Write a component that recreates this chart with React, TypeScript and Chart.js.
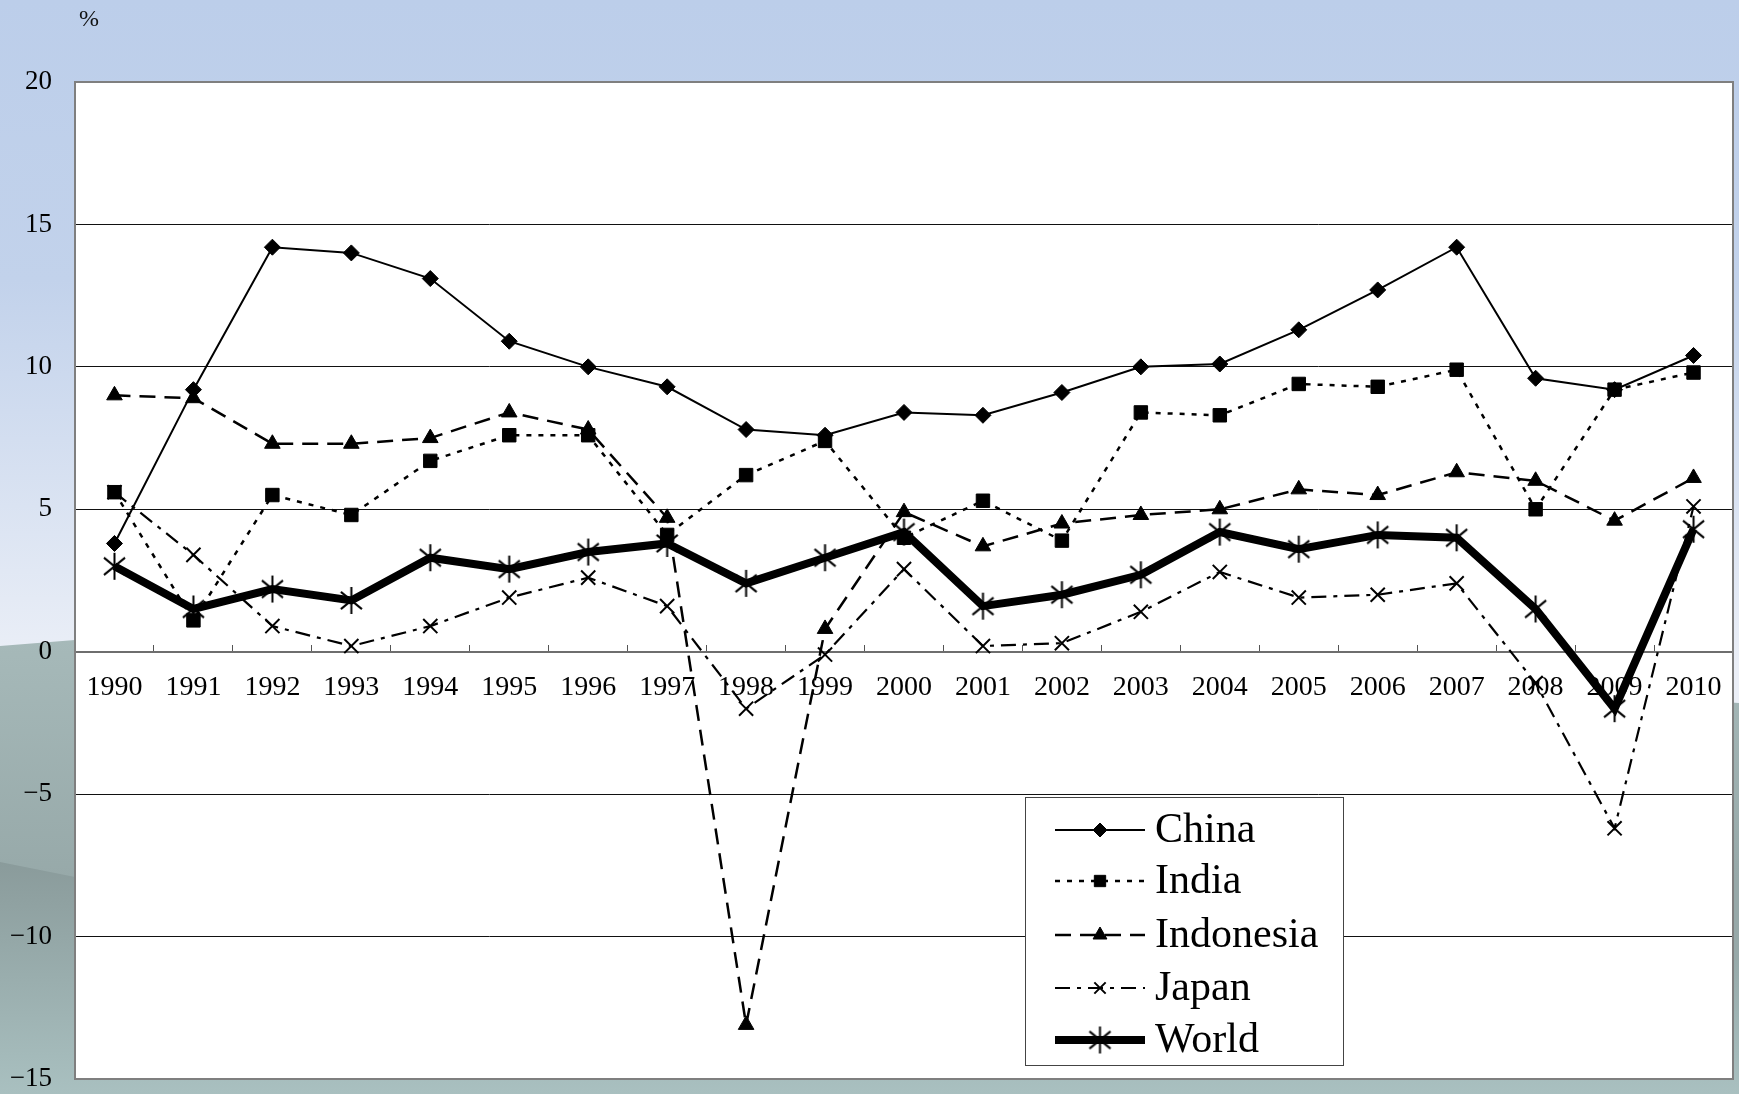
import React, { useEffect, useRef } from 'react';
import { Chart, registerables } from 'chart.js';
import { drawPoint } from 'chart.js/helpers';

Chart.register(...registerables);

const years = ['1990', '1991', '1992', '1993', '1994', '1995', '1996', '1997', '1998', '1999', '2000', '2001', '2002', '2003', '2004', '2005', '2006', '2007', '2008', '2009', '2010'];
const china = [3.8, 9.2, 14.2, 14.0, 13.1, 10.9, 10.0, 9.3, 7.8, 7.6, 8.4, 8.3, 9.1, 10.0, 10.1, 11.3, 12.7, 14.2, 9.6, 9.2, 10.4];
const india = [5.6, 1.1, 5.5, 4.8, 6.7, 7.6, 7.6, 4.1, 6.2, 7.4, 4.0, 5.3, 3.9, 8.4, 8.3, 9.4, 9.3, 9.9, 5.0, 9.2, 9.8];
const indonesia = [9.0, 8.9, 7.3, 7.3, 7.5, 8.4, 7.8, 4.7, -13.1, 0.8, 4.9, 3.7, 4.5, 4.8, 5.0, 5.7, 5.5, 6.3, 6.0, 4.6, 6.1];
const japan = [5.6, 3.4, 0.9, 0.2, 0.9, 1.9, 2.6, 1.6, -2.0, -0.1, 2.9, 0.2, 0.3, 1.4, 2.8, 1.9, 2.0, 2.4, -1.1, -6.2, 5.1];
const world = [3.0, 1.5, 2.2, 1.8, 3.3, 2.9, 3.5, 3.8, 2.4, 3.3, 4.2, 1.6, 2.0, 2.7, 4.2, 3.6, 4.1, 4.0, 1.5, -2.0, 4.3];
const seriesNames = ['China', 'India', 'Indonesia', 'Japan', 'World'];
const yTicks = { min: -15, max: 20, step: 5 };
const unitLabel = '%';

const SERIF = '"Liberation Serif", "Times New Roman", serif';

function makeAsterisk(size: number, lw: number): HTMLCanvasElement {
  const c = document.createElement('canvas');
  c.width = size;
  c.height = size;
  const x = c.getContext('2d')!;
  x.strokeStyle = '#000';
  x.lineWidth = lw;
  const m = size / 2;
  const r = size / 2 - 1;
  x.beginPath();
  x.moveTo(m, m - r);
  x.lineTo(m, m + r);
  const d = r * 0.78;
  x.moveTo(m - d, m - d * 0.82);
  x.lineTo(m + d, m + d * 0.82);
  x.moveTo(m + d, m - d * 0.82);
  x.lineTo(m - d, m + d * 0.82);
  x.stroke();
  return c;
}

const backgroundPlugin = {
  id: 'bgPlugin',
  beforeDraw(chart: any) {
    const { ctx, width, height, chartArea } = chart;
    ctx.save();
    const g = ctx.createLinearGradient(0, 0, 0, 700);
    g.addColorStop(0, '#BCCEEA');
    g.addColorStop(0.4, '#C2D2EB');
    g.addColorStop(0.95, '#EBEFF7');
    ctx.fillStyle = g;
    ctx.fillRect(0, 0, width, height);

    const g2 = ctx.createLinearGradient(0, 640, 0, 880);
    g2.addColorStop(0, '#A6B9B9');
    g2.addColorStop(1, '#97A9A9');
    ctx.fillStyle = g2;
    ctx.beginPath();
    ctx.moveTo(0, 646);
    ctx.lineTo(75, 640);
    ctx.lineTo(900, 650);
    ctx.lineTo(width, 703);
    ctx.lineTo(width, height);
    ctx.lineTo(0, height);
    ctx.closePath();
    ctx.fill();

    const g3 = ctx.createLinearGradient(0, 862, 0, height);
    g3.addColorStop(0, '#8A9B9B');
    g3.addColorStop(1, '#A9C0C0');
    ctx.fillStyle = g3;
    ctx.beginPath();
    ctx.moveTo(0, 862);
    ctx.lineTo(75, 877);
    ctx.lineTo(width, 960);
    ctx.lineTo(width, height);
    ctx.lineTo(0, height);
    ctx.closePath();
    ctx.fill();

    ctx.fillStyle = '#FFFFFF';
    ctx.fillRect(chartArea.left, chartArea.top, chartArea.right - chartArea.left, chartArea.bottom - chartArea.top);

    ctx.fillStyle = '#111';
    ctx.font = `24px ${SERIF}`;
    ctx.textAlign = 'center';
    ctx.textBaseline = 'middle';
    ctx.fillText(unitLabel, 89, 20);
    ctx.restore();
  },
  afterDraw(chart: any) {
    const { ctx, chartArea } = chart;
    ctx.save();
    ctx.strokeStyle = '#7F7F7F';
    ctx.lineWidth = 2;
    ctx.strokeRect(chartArea.left, chartArea.top, chartArea.right - chartArea.left, chartArea.bottom - chartArea.top);

    const bx = 1025, by = 797, bw = 318, bh = 268;
    ctx.fillStyle = '#FFFFFF';
    ctx.fillRect(bx, by, bw, bh);
    ctx.strokeStyle = '#444';
    ctx.lineWidth = 1;
    ctx.strokeRect(bx + 0.5, by + 0.5, bw, bh);
    const rows = [830, 881, 935, 988, 1040];
    chart.data.datasets.forEach((ds: any, i: number) => {
      const y = rows[i];
      ctx.save();
      ctx.strokeStyle = ds.borderColor;
      ctx.lineWidth = ds.borderWidth;
      ctx.setLineDash(ds.borderDash || []);
      ctx.beginPath();
      ctx.moveTo(1055, y);
      ctx.lineTo(1145, y);
      ctx.stroke();
      ctx.setLineDash([]);
      ctx.fillStyle = ds.pointBackgroundColor;
      ctx.strokeStyle = ds.pointBorderColor;
      ctx.lineWidth = ds.pointBorderWidth;
      drawPoint(ctx, { pointStyle: ds.pointStyle, radius: ds.legendRadius, rotation: 0, borderWidth: ds.pointBorderWidth }, 1100, y);
      ctx.restore();
      ctx.fillStyle = '#000';
      ctx.font = `42px ${SERIF}`;
      ctx.textAlign = 'left';
      ctx.textBaseline = 'middle';
      ctx.fillText(ds.label, 1155, y + 1);
    });
    ctx.restore();
  },
};

export default function App() {
  const ref = useRef<HTMLCanvasElement | null>(null);

  useEffect(() => {
    document.body.style.margin = '0';
    const canvas = ref.current!;
    const star = makeAsterisk(29, 2);
    const chart = new Chart(canvas, {
      type: 'line',
      data: {
        labels: years,
        datasets: [
          {
            label: seriesNames[0], data: china, borderColor: '#000', borderWidth: 2,
            pointStyle: 'rectRot', pointRadius: 8, pointBackgroundColor: '#000', pointBorderColor: '#000', pointBorderWidth: 1,
            legendRadius: 7, order: 1,
          } as any,
          {
            label: seriesNames[1], data: india, borderColor: '#000', borderWidth: 2.5, borderDash: [5, 7],
            pointStyle: 'rect', pointRadius: 9.5, pointBackgroundColor: '#000', pointBorderColor: '#000', pointBorderWidth: 1,
            legendRadius: 8, order: 2,
          } as any,
          {
            label: seriesNames[2], data: indonesia, borderColor: '#000', borderWidth: 2.5, borderDash: [16, 9],
            pointStyle: 'triangle', pointRadius: 9, pointBackgroundColor: '#000', pointBorderColor: '#000', pointBorderWidth: 1,
            legendRadius: 8, order: 3,
          } as any,
          {
            label: seriesNames[3], data: japan, borderColor: '#000', borderWidth: 2.2, borderDash: [15, 7, 4, 7],
            pointStyle: 'crossRot', pointRadius: 10, pointBackgroundColor: '#000', pointBorderColor: '#000', pointBorderWidth: 2,
            legendRadius: 8, order: 4,
          } as any,
          {
            label: seriesNames[4], data: world, borderColor: '#000', borderWidth: 8,
            pointStyle: star, pointRadius: 14, pointBackgroundColor: '#000', pointBorderColor: '#000', pointBorderWidth: 2,
            legendRadius: 14, order: 0,
          } as any,
        ],
      },
      options: {
        responsive: false,
        animation: false,
        devicePixelRatio: 1,
        layout: { autoPadding: false, padding: { top: 82, right: 6, bottom: 15, left: 0 } },
        plugins: { legend: { display: false }, tooltip: { enabled: false } },
        elements: { line: { tension: 0, borderJoinStyle: 'miter' } },
        scales: {
          x: {
            type: 'category',
            offset: true,
            position: { y: 0 } as any,
            grid: { display: true, drawOnChartArea: false, drawTicks: true, tickLength: 19, tickColor: 'rgba(0,0,0,0)', offset: true },
            border: { display: false },
            ticks: { autoSkip: false, maxRotation: 0, minRotation: 0, color: '#000', padding: 0, font: { family: SERIF, size: 28 } },
            afterFit(scale: any) { scale.height = 0; },
          },
          x2: {
            type: 'category',
            offset: true,
            position: { y: 0 } as any,
            grid: { display: true, drawOnChartArea: false, drawTicks: true, tickLength: -8, offset: true, color: '#555', lineWidth: 1 },
            border: { display: true, color: '#6E6E6E', width: 2 },
            ticks: { display: false },
            afterFit(scale: any) { scale.height = 0; },
          },
          y: {
            min: yTicks.min,
            max: yTicks.max,
            ticks: {
              stepSize: yTicks.step, color: '#000', padding: -2, font: { family: SERIF, size: 27 },
              callback: (v: any) => String(v).replace('-', '\u2212'),
            },
            grid: { color: '#111', lineWidth: 1, drawTicks: true, tickLength: 25, tickColor: 'rgba(0,0,0,0)' },
            border: { display: false },
            afterFit(scale: any) { scale.width = 75; },
          },
        },
      },
      plugins: [backgroundPlugin],
    });
    return () => chart.destroy();
  }, []);

  return (
    <div style={{ position: 'absolute', left: 0, top: 0, width: 1739, height: 1094 }}>
      <canvas ref={ref} width={1739} height={1094} style={{ display: 'block', width: 1739, height: 1094 }} />
    </div>
  );
}
